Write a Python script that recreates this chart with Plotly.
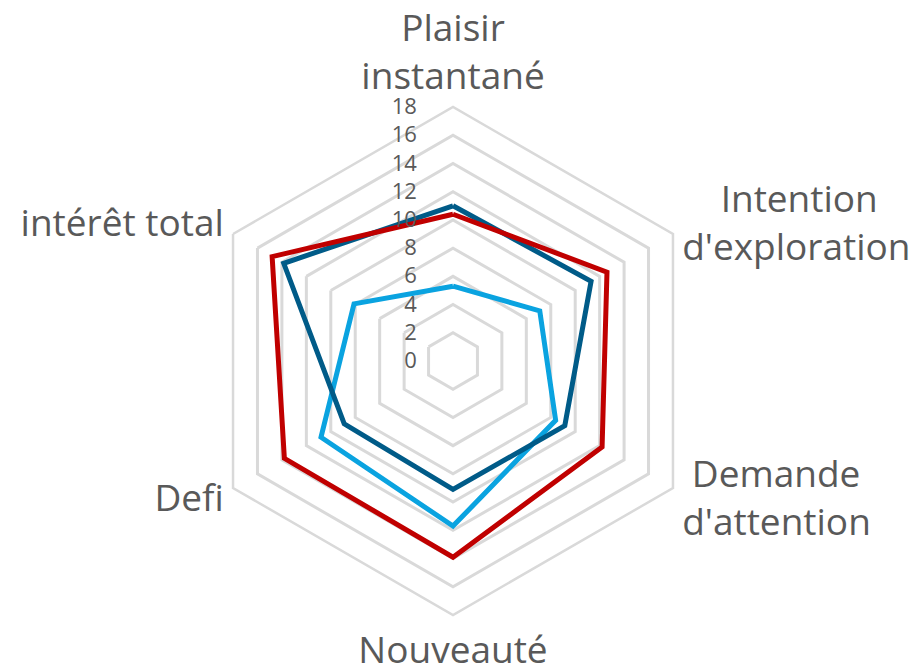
import plotly.graph_objects as go

categories = ["Plaisir instantané", "Intention d'exploration", "Demande d'attention",
              "Nouveauté", "Defi", "intérêt total"]
NB = "\u00a0"
category_labels = [
    "Plaisir<br>instantané",
    NB + "<br>" + NB * 4 + "Intention<br>d'exploration",
    NB + "Demande<br>d'attention<br>" + NB + "<br>" + NB,
    "Nouveauté",
    "Defi<br>" + NB,
    "intérêt total",
]
serie_claire = [5.3, 7.1, 8.4, 11.7, 10.8, 8.1]
serie_foncee = [11.0, 11.3, 9.15, 9.1, 8.9, 13.85]
serie_rouge = [10.4, 12.6, 12.2, 13.9, 13.8, 14.8]
radial_ticks = [0, 2, 4, 6, 8, 10, 12, 14, 16, 18]

W, H = 917, 669
cx, cy, R = 453, 361, 254

fig = go.Figure()
for name, vals, col in [("Série 1", serie_claire, "#0AA3E0"),
                        ("Série 2", serie_foncee, "#005B88"),
                        ("Série 3", serie_rouge, "#C00000")]:
    fig.add_trace(go.Scatterpolar(
        r=vals + vals[:1], theta=categories + categories[:1],
        mode="lines", name=name,
        line=dict(color=col, width=5),
    ))

fig.update_layout(
    width=W, height=H,
    margin=dict(l=0, r=0, t=0, b=0),
    paper_bgcolor="white", plot_bgcolor="white",
    showlegend=False,
    font=dict(family="Open Sans", color="#595959"),
    polar=dict(
        domain=dict(x=[(cx - R) / W, (cx + R) / W],
                    y=[(H - cy - R) / H, (H - cy + R) / H]),
        gridshape="linear",
        bgcolor="white",
        radialaxis=dict(
            range=[0, 18], tickvals=radial_ticks, ticktext=[str(v) for v in radial_ticks],
            angle=90, side="counterclockwise", tickangle=90,
            showline=False, gridcolor="#D9D9D9", gridwidth=2.5,
            ticks="outside", ticklen=28, tickcolor="rgba(0,0,0,0)",
            tickfont=dict(size=22, color="#595959"),
        ),
        angularaxis=dict(
            direction="clockwise", rotation=90,
            tickmode="array", tickvals=categories, ticktext=category_labels,
            showgrid=False, showline=True, linecolor="#D9D9D9", linewidth=2.5,
            ticks="outside", ticklen=2, tickcolor="rgba(0,0,0,0)",
            tickfont=dict(size=37, color="#595959"),
        ),
    ),
)

fig.write_html("out.html", config={"displayModeBar": False},
               post_script="document.body.style.margin='0';document.body.style.padding='0';")
